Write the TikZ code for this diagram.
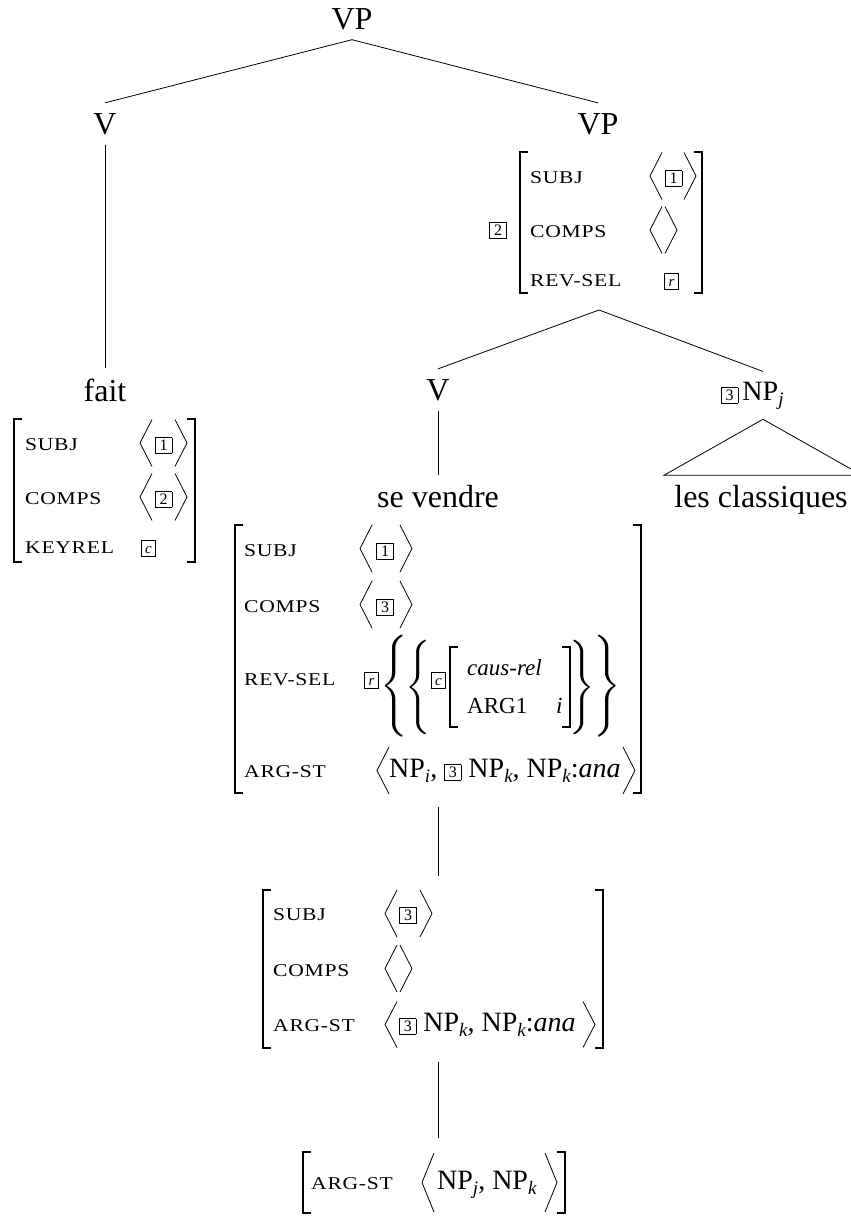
\documentclass[tikz,border=0pt]{standalone}
\usepackage{fontspec}
\setmainfont{Liberation Serif}
\newfontfamily\featfont[FakeStretch=1.2,LetterSpace=4]{Liberation Serif}
\newcommand\feat[1]{{\featfont\fontsize{18}{18}\selectfont #1}}
\newcommand\valfont{\fontsize{28}{28}\selectfont}
\newcommand\treefont{\fontsize{32}{32}\selectfont}
\newcommand\smallfont{\fontsize{23}{23}\selectfont}
\newcommand\mysub[1]{\raisebox{-5pt}{\fontsize{19}{19}\selectfont\itshape #1}}
\newcommand\tagbox[1]{{\setlength\fboxsep{1.5pt}\setlength\fboxrule{0.6pt}\fbox{\fontsize{16}{16}\selectfont\makebox[13pt]{\rule[-1pt]{0pt}{11.5pt}#1}}}}
\newcommand\ltag[1]{{\setlength\fboxsep{1.5pt}\setlength\fboxrule{0.6pt}\fbox{\fontsize{15}{15}\selectfont\makebox[10pt]{\rule[-1pt]{0pt}{11.5pt}\itshape #1}}}}
\newcommand\lbr[1]{\scalebox{#1}{\fontsize{10}{12}\selectfont$\delimitershortfall=0pt\delimiterfactor=1000\left\{\vcenter{\hbox{\rule{0pt}{28pt}}}\right.\kern-\nulldelimiterspace$}}
\newcommand\rbr[1]{\scalebox{#1}{\fontsize{10}{12}\selectfont$\kern-\nulldelimiterspace\delimitershortfall=0pt\delimiterfactor=1000\left.\vcenter{\hbox{\rule{0pt}{28pt}}}\right\}$}}
\newcommand\lbrk[3]{\draw[brk] (#1+8,#2) -- (#1,#2) -- (#1,#3) -- (#1+8,#3);}
\newcommand\rbrk[3]{\draw[brk] (#1-8,#2) -- (#1,#2) -- (#1,#3) -- (#1-8,#3);}
\newcommand\angl[3]{\draw[ang] (#1+12,#2-#3) -- (#1,#2) -- (#1+12,#2+#3);}
\newcommand\angr[3]{\draw[ang] (#1-12,#2-#3) -- (#1,#2) -- (#1-12,#2+#3);}
\tikzset{
  tn/.style={inner sep=10pt, font=\treefont, anchor=base},
  lbl/.style={inner sep=0pt, anchor=base west},
  tg/.style={inner sep=0pt, anchor=base},
  brace/.style={inner sep=0pt},
  avm/.style={inner sep=0pt, outer sep=14pt},
  edge/.style={line width=0.8pt},
  brk/.style={line width=1.4pt},
  ang/.style={line width=0.8pt},
}
\begin{document}
\begin{tikzpicture}[x=1pt,y=-1pt]
\useasboundingbox (0,0) rectangle (851,1216);
\clip (0,0) rectangle (851,1216);

% ---------- tree labels ----------
\node[tn] (vp0) at (352,29) {VP};
\node[tn] (v1) at (105,134) {V};
\node[tn] (vp1) at (598,134) {VP};
\node[tn] (fait) at (105,401) {fait};
\node[tn] (v2) at (438,400) {V};
\node[tn, font=\valfont] (np) at (763,400) {NP\mysub{j}};
\node[tg] (nptag) at (729.5,400) {\tagbox{3}};
\node[tn] (sev) at (438,507) {se vendre};
\node[tn] (cls) at (761,507) {les classiques};

% invisible AVM nodes (for connectors)
\node[avm, minimum width=182, minimum height=141, outer sep=17pt] (avmvp) at (599,222.5) {};
\node[avm, minimum width=406, minimum height=268] (avm1) at (438,659) {};
\node[avm, minimum width=340, minimum height=158] (avm2) at (438,969) {};
\node[avm, minimum width=262, minimum height=61] (avm3) at (438,1182.5) {};

% ---------- connectors ----------
\draw[edge] (vp0.south) -- (v1.north);
\draw[edge] (vp0.south) -- (vp1.north);
\draw[edge] (v1.south) -- (fait.north);
\draw[edge] (avmvp.south) -- (v2.north);
\draw[edge] (avmvp.south) -- (np.north);
\draw[edge] (v2.south) -- (sev.north);
\draw[edge] (np.south) -- ++(-99,56) -- ++(198,0) -- cycle;
\draw[edge] (avm1.south) -- (avm2.north);
\draw[edge] (avm2.south) -- (avm3.north);

% ---------- AVM of fait ----------
\lbrk{14}{419}{562}
\rbrk{195}{419}{562}
\node[lbl] (fsubj) at (25,450) {\feat{SUBJ}};
\angl{140}{443}{23.5}
\node[tg] (ft1) at (163.5,450) {\tagbox{1}};
\angr{187}{443}{23.5}
\node[lbl] (fcomps) at (25,504) {\feat{COMPS}};
\angl{140}{497}{23.5}
\node[tg] (ft2) at (163.5,504) {\tagbox{2}};
\angr{187}{497}{23.5}
\node[lbl] (fkey) at (25,553) {\feat{KEYREL}};
\node[tg] (ftc) at (148.5,553) {\ltag{c}};

% ---------- AVM of upper VP ----------
\node[tg] (vpt2) at (498,235) {\tagbox{2}};
\lbrk{520}{152}{293}
\rbrk{702}{152}{293}
\node[lbl] (vsubj) at (530,183) {\feat{SUBJ}};
\angl{650}{176}{23.5}
\node[tg] (vt1) at (673.5,183) {\tagbox{1}};
\angr{696}{176}{23.5}
\node[lbl] (vcomps) at (530,237) {\feat{COMPS}};
\angl{650}{230}{23.5}
\angr{677}{230}{23.5}
\node[lbl] (vrev) at (530,286) {\feat{REV-SEL}};
\node[tg] (vtr) at (671.5,286) {\ltag{r}};

% ---------- AVM of se vendre ----------
\lbrk{235}{525}{793}
\rbrk{641}{525}{793}
\node[lbl] (ssubj) at (244,556) {\feat{SUBJ}};
\angl{360}{548.5}{23.5}
\node[tg] (st1) at (385,556) {\tagbox{1}};
\angr{412}{548.5}{23.5}
\node[lbl] (scomps) at (244,612) {\feat{COMPS}};
\angl{360}{604.5}{23.5}
\node[tg] (st3) at (385,612) {\tagbox{3}};
\angr{412}{604.5}{23.5}
\node[lbl] (srev) at (244,685) {\feat{REV-SEL}};
\node[tg] (str) at (371.5,685) {\ltag{r}};
\node[brace] (b1) at (394,686) {\lbr{3.4}};
\node[brace] (b2) at (418,687.5) {\lbr{3.15}};
\node[tg] (stc) at (438.5,685) {\ltag{c}};
\lbrk{450}{647}{727}
\rbrk{570}{647}{727}
\node[lbl, font=\smallfont\itshape] (caus) at (467,675) {caus-rel};
\node[lbl, font=\smallfont] (arg1) at (467,713) {ARG1};
\node[lbl, font=\smallfont\itshape] (argi) at (556,713) {i};
\node[brace] (b3) at (582,687.5) {\rbr{3.15}};
\node[brace] (b4) at (607,686) {\rbr{3.4}};
\node[lbl] (sarg) at (244,777) {\feat{ARG-ST}};
\angl{377}{770.5}{23.5}
\node[lbl, font=\valfont] (sargv) at (389,777) {NP\mysub{i}, \tagbox{3} NP\mysub{k}, NP\mysub{k}:\textit{ana}};
\angr{635}{770.5}{23.5}

% ---------- second AVM ----------
\lbrk{263}{890}{1048}
\rbrk{603}{890}{1048}
\node[lbl] (tsubj) at (273,920) {\feat{SUBJ}};
\angl{385}{913.5}{23.5}
\node[tg] (tt3) at (408,920) {\tagbox{3}};
\angr{432}{913.5}{23.5}
\node[lbl] (tcomps) at (273,976) {\feat{COMPS}};
\angl{385}{968.5}{23.5}
\angr{412}{968.5}{23.5}
\node[lbl] (targ) at (273,1031) {\feat{ARG-ST}};
\angl{385}{1024.5}{23}
\node[lbl, font=\valfont] (targv) at (399,1031) {\tagbox{3} NP\mysub{k}, NP\mysub{k}:\textit{ana}};
\angr{595}{1024.5}{23}

% ---------- third AVM ----------
\lbrk{303}{1152}{1213}
\rbrk{565}{1152}{1213}
\node[lbl] (uarg) at (311,1189) {\feat{ARG-ST}};
\angl{422}{1182.5}{29.5}
\node[lbl, font=\valfont] (uargv) at (437,1189) {NP\mysub{j}, NP\mysub{k}};
\angr{557}{1182.5}{29.5}
\end{tikzpicture}
\end{document}
